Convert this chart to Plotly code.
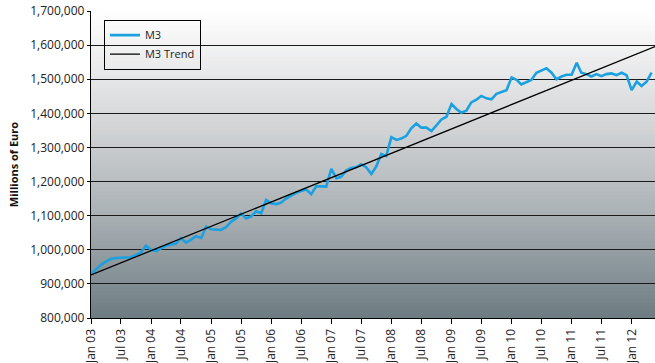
import plotly.graph_objects as go
import pandas as pd

# ---- data (monthly M3, millions of euro) ----
start_month = "2003-01-01"
m3_values = [
    928000, 942000, 955000, 965000, 973000, 976000, 977000, 977000, 978000, 984000, 992000, 1012000,
    1000000, 996000, 1004000, 1012000, 1015000, 1018000, 1034000, 1021000, 1030000, 1040000, 1034000, 1068000,
    1060000, 1058000, 1058000, 1066000, 1082000, 1092000, 1106000, 1092000, 1098000, 1113000, 1107000, 1146000,
    1136000, 1134000, 1138000, 1150000, 1159000, 1167000, 1172000, 1177000, 1163000, 1186000, 1186000, 1185000,
    1237000, 1210000, 1214000, 1232000, 1240000, 1242000, 1251000, 1242000, 1222000, 1244000, 1281000, 1275000,
    1330000, 1322000, 1326000, 1334000, 1356000, 1370000, 1358000, 1358000, 1348000, 1366000, 1382000, 1390000,
    1427000, 1412000, 1402000, 1408000, 1432000, 1440000, 1451000, 1444000, 1441000, 1457000, 1462000, 1468000,
    1505000, 1498000, 1485000, 1492000, 1498000, 1519000, 1525000, 1532000, 1519000, 1500000, 1508000, 1513000,
    1513000, 1548000, 1519000, 1515000, 1508000, 1515000, 1509000, 1515000, 1517000, 1512000, 1519000, 1512000,
    1468000, 1493000, 1480000, 1493000, 1519000,
]
trend_dates = ["2003-01-01", "2012-05-22"]
trend_values = [926000, 1596000]
y_ticks = [800000, 900000, 1000000, 1100000, 1200000, 1300000, 1400000, 1500000, 1600000, 1700000]

m3_dates = pd.date_range(start_month, periods=len(m3_values), freq="MS")

fig = go.Figure()
fig.add_trace(go.Scatter(x=m3_dates, y=m3_values, mode="lines", name="M3",
                         line=dict(color="#1ba1df", width=2.6)))
fig.add_trace(go.Scatter(x=trend_dates, y=trend_values, mode="lines", name="M3 Trend",
                         line=dict(color="#000000", width=1.3)))

# gradient background bands
def hex2rgb(h):
    h = h.lstrip("#")
    return tuple(int(h[i:i + 2], 16) for i in (0, 2, 4))

stops = [(0.0, "#6d7c82"), (0.33, "#a9b0b4"), (0.67, "#d9dadc"), (1.0, "#ffffff")]

def color_at(t):
    for (t0, c0), (t1, c1) in zip(stops[:-1], stops[1:]):
        if t0 <= t <= t1:
            f = (t - t0) / (t1 - t0)
            a, b = hex2rgb(c0), hex2rgb(c1)
            return "rgb(%d,%d,%d)" % tuple(round(a[i] + (b[i] - a[i]) * f) for i in range(3))
    return stops[-1][1]

n_bands = 80
shapes = []
for i in range(n_bands):
    y0 = i / n_bands
    y1 = min(1.0, (i + 1) / n_bands + 0.004)
    shapes.append(dict(type="rect", xref="x domain", yref="y domain", x0=0, x1=1, y0=y0, y1=y1,
                       fillcolor=color_at((i + 0.5) / n_bands), line=dict(width=0), layer="below"))

font_family = "Open Sans, DejaVu Sans, sans-serif"

fig.update_layout(
    width=655, height=363,
    margin=dict(l=91, r=0, t=11, b=45),
    paper_bgcolor="white", plot_bgcolor="white",
    shapes=shapes,
    font=dict(family=font_family, size=12, color="#222222"),
    showlegend=True,
    legend=dict(x=0.023, y=0.972, xanchor="left", yanchor="top",
                bgcolor="rgba(0,0,0,0)", bordercolor="#000000", borderwidth=1,
                font=dict(size=11, color="#222222"), tracegroupgap=0,
                itemwidth=30),
)
fig.update_xaxes(
    type="date", range=["2003-01-01", "2012-05-22"],
    dtick="M6", tick0="2003-01-01", tickformat="%b %y", tickangle=-90,
    ticks="outside", ticklen=5, tickcolor="#000000",
    showline=True, linecolor="#000000", linewidth=1.3,
    showgrid=False, zeroline=False,
    tickfont=dict(size=12, color="#222222"),
)
fig.update_yaxes(
    range=[800000, 1700000], tickvals=y_ticks, tickformat=",d",
    ticks="outside", ticklen=3, tickcolor="#000000",
    showline=True, linecolor="#000000", linewidth=1.3,
    showgrid=True, gridcolor="#1a1a1a", gridwidth=1.3, zeroline=False,
    tickfont=dict(size=12, color="#222222"),
    title=dict(text="<b>Millions of Euro</b>", font=dict(size=11, color="#111111"), standoff=9),
)

fig.write_html("out.html")
